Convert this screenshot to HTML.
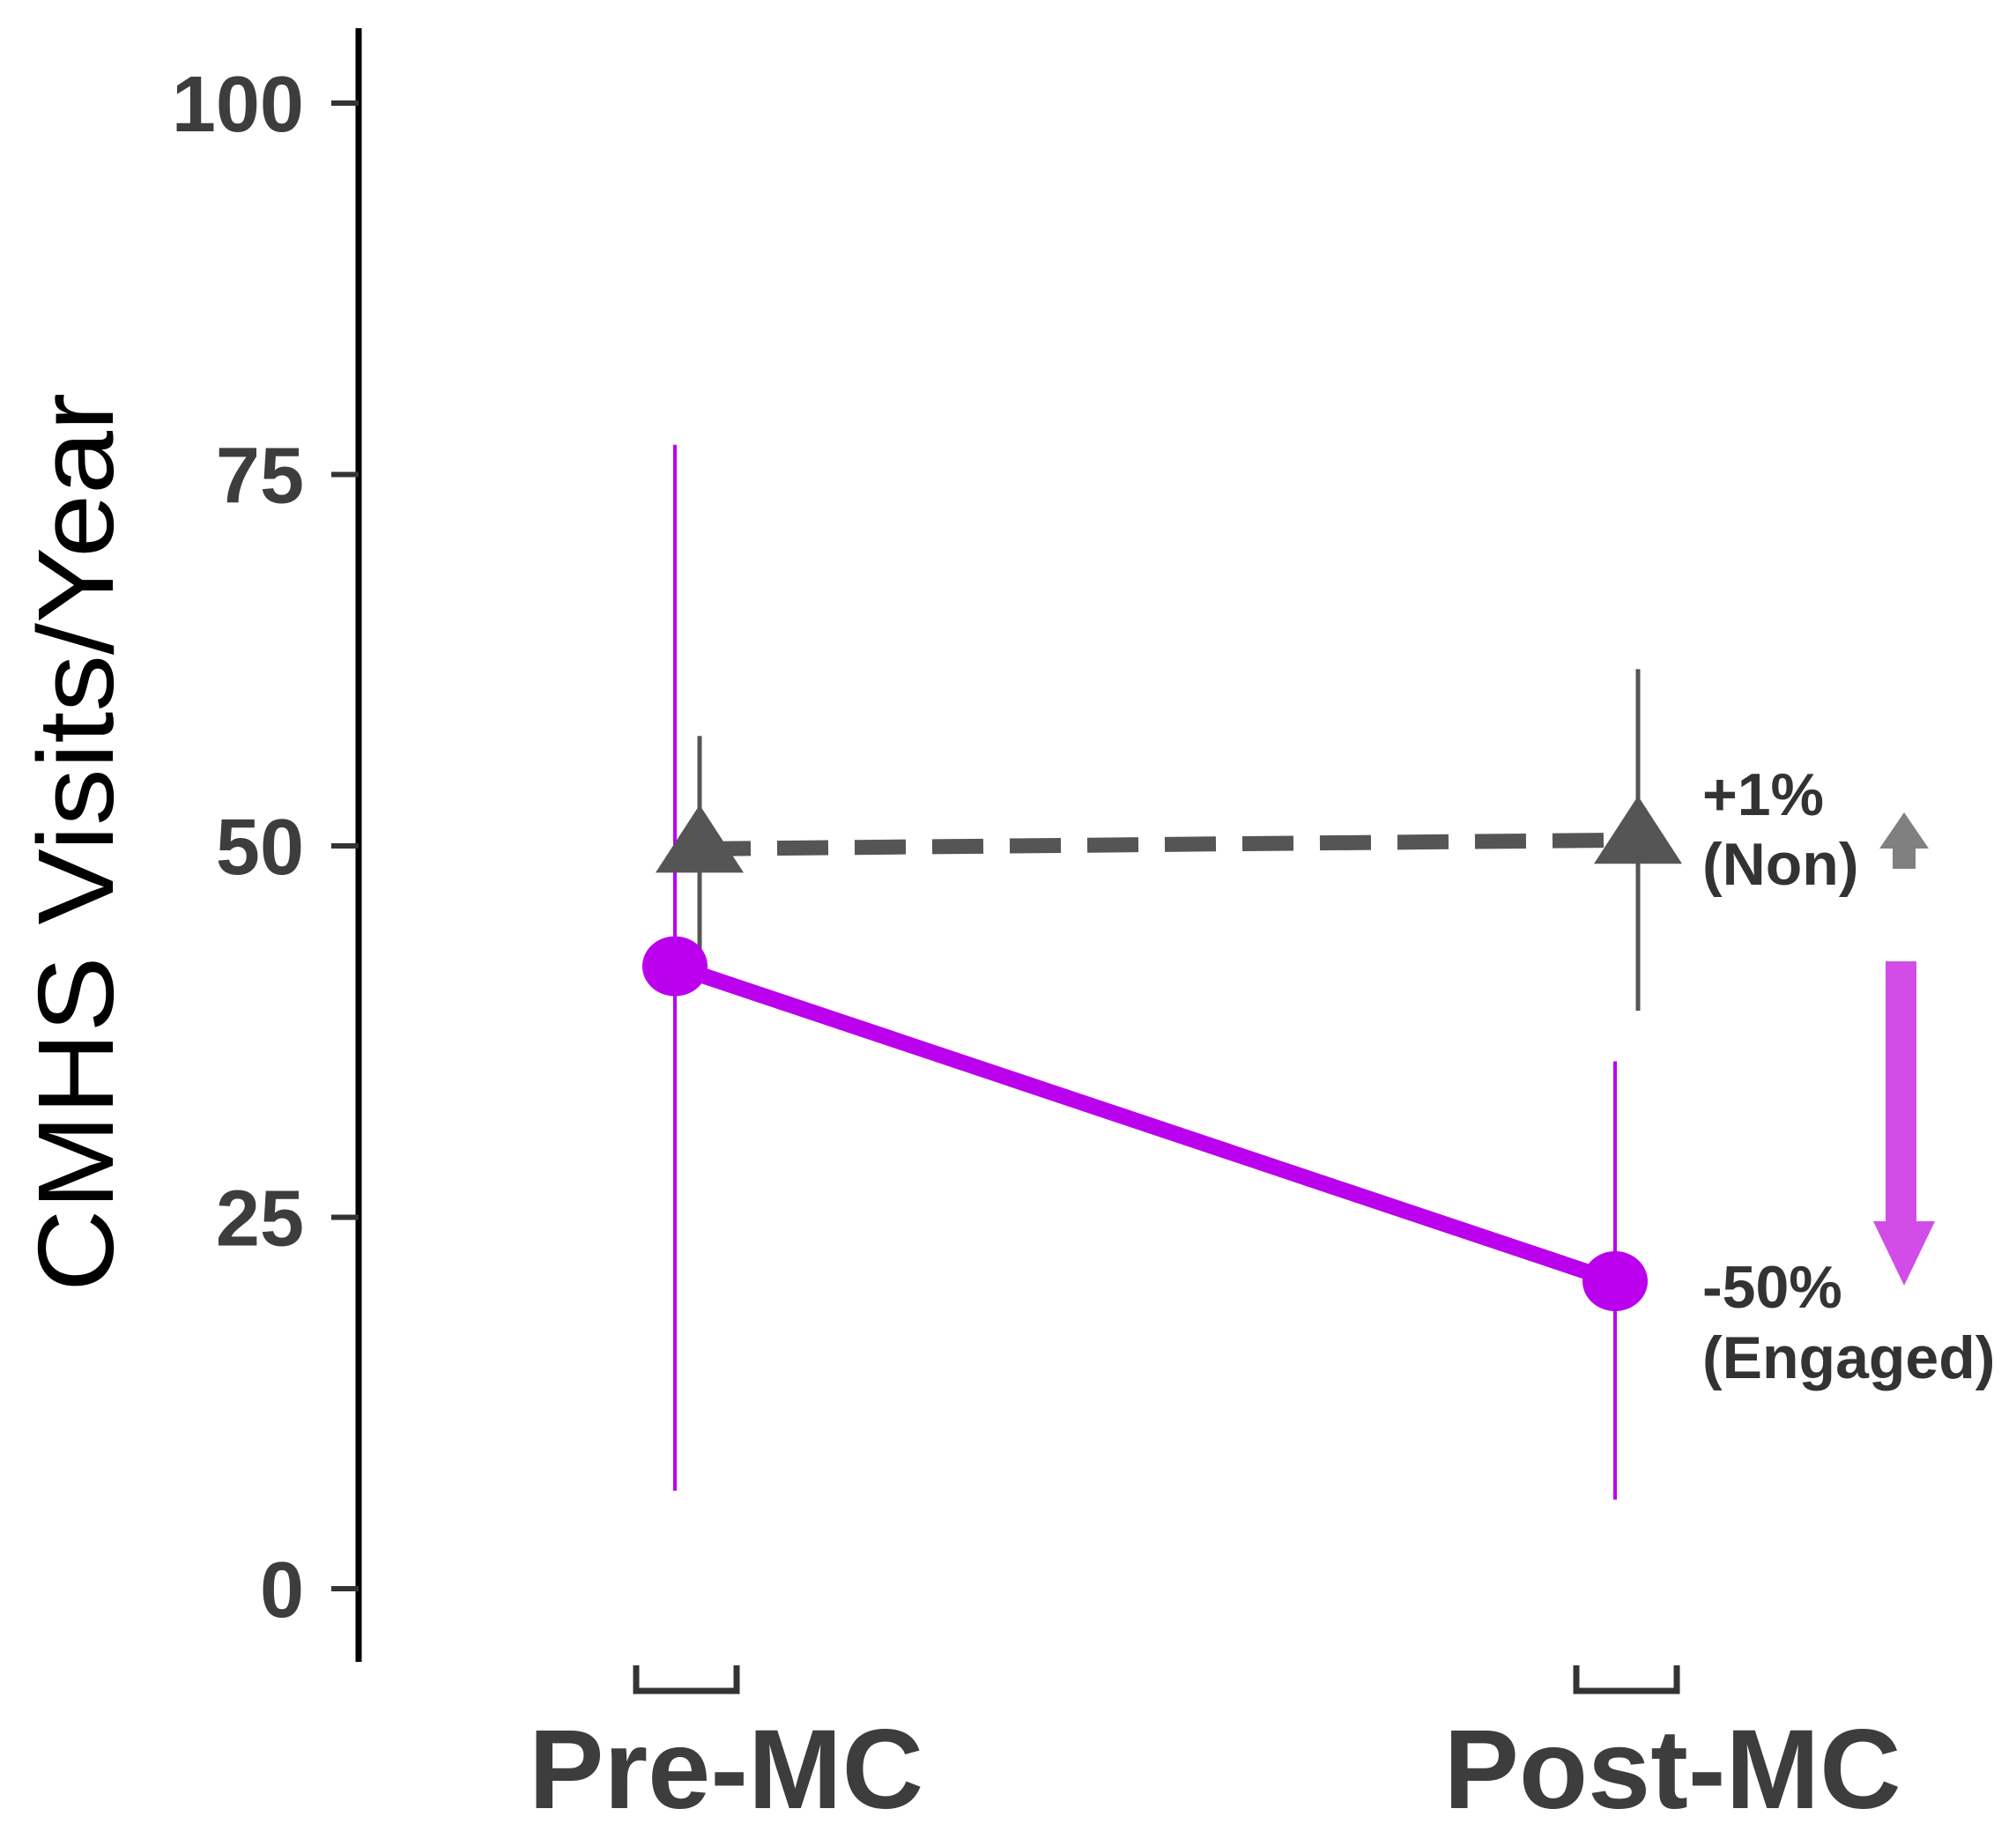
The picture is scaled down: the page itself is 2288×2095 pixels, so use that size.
<!DOCTYPE html>
<html><head><meta charset="utf-8"><style>
html,body{margin:0;padding:0;background:#fff;}
svg{display:block;font-family:"Liberation Sans",Arial,sans-serif;}
</style></head><body>
<svg id="chart" width="2288" height="2095" viewBox="0 0 2288 2095"></svg>
<script>
const categories = ["Pre-MC", "Post-MC"];
const yTicks = [0, 25, 50, 75, 100];
const engagedMean = [41.9, 20.7];
const engagedLow = [6.6, 6.0];
const engagedHigh = [77.0, 35.5];
const nonMean = [49.8, 50.4];
const nonLow = [42.5, 38.9];
const nonHigh = [57.4, 61.9];
const annotations = ["+1%", "(Non)", "-50%", "(Engaged)"];

const NS = "http://www.w3.org/2000/svg";
const svg = document.getElementById("chart");
function y(v){ return 1803 - v * 16.86; }
const xEng = [766, 1833];
const xNon = [794, 1859];
const xBracket = [779, 1846];
const xLabel = [824, 1898];
function el(tag, attrs, text){
  const e = document.createElementNS(NS, tag);
  for (const k in attrs) e.setAttribute(k, attrs[k]);
  if (text !== undefined) e.textContent = text;
  svg.appendChild(e);
  return e;
}
let e;
e = el("line", {x1:407, y1:32, x2:407, y2:1886, stroke:"#000", "stroke-width":7});


yTicks.forEach(t => {
  e = el("line", {x1:376, y1:y(t), x2:407, y2:y(t), stroke:"#333", "stroke-width":6});
  
  
  e = el("text", {x:345, y:y(t)+32, "text-anchor":"end", "font-size":90, "font-weight":"bold", fill:"#3d3d3d"}, String(t));
  
  
});
e = el("text", {x:0, y:0, transform:"translate(128,956) rotate(-90)", "text-anchor":"middle", "font-size":122, fill:"#000", textLength:1020, lengthAdjust:"spacingAndGlyphs"}, "CMHS Visits/Year");


categories.forEach((c, i) => {
  const cx = xBracket[i];
  e = el("path", {d:`M${cx-57} 1890 V1919 H${cx+57} V1890`, fill:"none", stroke:"#333", "stroke-width":7});
  
  
  e = el("text", {x:xLabel[i], y:2052, "text-anchor":"middle", "font-size":128, "font-weight":"bold", fill:"#3d3d3d"}, c);
  
  
});
engagedMean.forEach((m, i) => {
  e = el("line", {x1:xEng[i], y1:y(engagedHigh[i]), x2:xEng[i], y2:y(engagedLow[i]), stroke:"#bb00ee", "stroke-width":4});
  
  
});
e = el("line", {x1:xNon[0], y1:y(nonMean[0]), x2:xNon[1], y2:y(nonMean[1]), stroke:"#555", "stroke-width":17, "stroke-dasharray":"58 30"});


nonMean.forEach((m, i) => {
  e = el("line", {x1:xNon[i], y1:y(nonHigh[i]), x2:xNon[i], y2:y(nonLow[i]), stroke:"#555", "stroke-width":5});
  
  
  const cy = y(m);
  e = el("polygon", {points:`${xNon[i]},${cy-50} ${xNon[i]-50},${cy+27} ${xNon[i]+50},${cy+27}`, fill:"#555"});
  
  
});
e = el("line", {x1:xEng[0], y1:y(engagedMean[0]), x2:xEng[1], y2:y(engagedMean[1]), stroke:"#bb00ee", "stroke-width":18});


engagedMean.forEach((m, i) => {
  e = el("ellipse", {cx:xEng[i], cy:y(m), rx:37, ry:34, fill:"#bb00ee"});
  
  
});
const annY = [925, 1004, 1484, 1564];
annotations.forEach((a, i) => {
  e = el("text", {x:1932, y:annY[i], "font-size":68, "font-weight":"bold", fill:"#333"}, a);
  
  
});
e = el("polygon", {points:"2161,922 2189,963 2174,963 2174,986 2148,986 2148,963 2133,963", fill:"#808080"});


e = el("polygon", {points:"2140,1091 2175,1091 2175,1386 2196,1386 2161,1459 2126,1386 2140,1386", fill:"#d24ce8"});


</script>
</body></html>
